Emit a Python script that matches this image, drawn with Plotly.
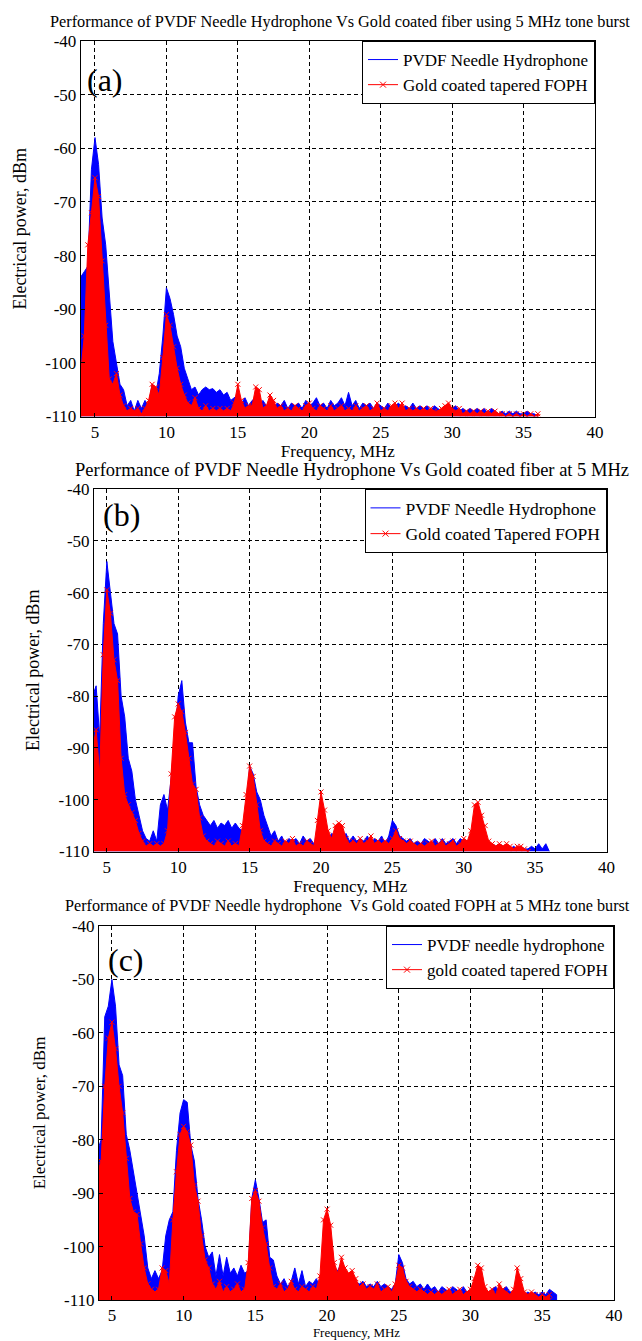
import plotly.graph_objects as go

# ---------------- data ----------------
FREQ_MHZ = [
    4.0, 4.25, 4.5, 4.75, 5.0, 5.25, 5.5, 5.75, 6.0, 6.25, 6.5, 6.75,
    7.0, 7.25, 7.5, 7.75, 8.0, 8.25, 8.5, 8.75, 9.0, 9.25, 9.5, 9.75,
    10.0, 10.25, 10.5, 10.75, 11.0, 11.25, 11.5, 11.75, 12.0, 12.25, 12.5, 12.75,
    13.0, 13.25, 13.5, 13.75, 14.0, 14.25, 14.5, 14.75, 15.0, 15.25, 15.5, 15.75,
    16.0, 16.25, 16.5, 16.75, 17.0, 17.25, 17.5, 17.75, 18.0, 18.25, 18.5, 18.75,
    19.0, 19.25, 19.5, 19.75, 20.0, 20.25, 20.5, 20.75, 21.0, 21.25, 21.5, 21.75,
    22.0, 22.25, 22.5, 22.75, 23.0, 23.25, 23.5, 23.75, 24.0, 24.25, 24.5, 24.75,
    25.0, 25.25, 25.5, 25.75, 26.0, 26.25, 26.5, 26.75, 27.0, 27.25, 27.5, 27.75,
    28.0, 28.25, 28.5, 28.75, 29.0, 29.25, 29.5, 29.75, 30.0, 30.25, 30.5, 30.75,
    31.0, 31.25, 31.5, 31.75, 32.0, 32.25, 32.5, 32.75, 33.0, 33.25, 33.5, 33.75,
    34.0, 34.25, 34.5, 34.75, 35.0, 35.25, 35.5, 35.75, 36.0,
]

# Panel (a)
PVDF_A = [
    -84, -83, -82, -64, -58, -63, -73, -78, -88, -96, -100, -104,
    -105, -108, -107, -109, -107, -108.5, -107, -108, -104, -106, -102, -95,
    -86, -88, -91, -95, -97, -101, -103, -105, -104.5, -106, -105, -104.5,
    -105, -104.8, -105.5, -105, -106, -105.5, -107, -106.5, -106, -107.5, -106.5, -108,
    -107, -106.5, -108, -107, -108, -107, -108.5, -107.5, -108, -107, -108.5, -107.5,
    -108, -107.5, -108.5, -107, -108, -107.5, -106.5, -108, -107.5, -108.5, -107, -108,
    -107.5, -106.5, -108, -105.5, -108, -107, -108.5, -107.5, -108, -107.5, -108.5, -107.5,
    -108, -108.5, -107.5, -108.5, -108, -107.5, -108.5, -108, -108.5, -107.5, -108.5, -108,
    -108.5, -108, -109, -108, -108.5, -109, -108, -109, -108.5, -108, -109, -108.5,
    -109, -108.5, -109, -108.5, -109, -108.5, -109.5, -108.5, -109, -109.5, -109, -109.5,
    -109, -109.5, -109, -109.5, -109.5, -109, -109.5, -109.5, -110,
]
FOPH_A = [
    -102, -95, -78, -72, -65.5, -69, -81, -93, -103, -104, -102, -106,
    -108, -109, -108.5, -109, -108.5, -109.5, -108.5, -107, -104, -104.5, -106, -99,
    -91, -93, -97, -101, -104, -106, -107.5, -108, -106.5, -108.5, -109, -108,
    -109, -108.5, -109, -108.5, -109, -108.5, -109, -107.5, -104, -107, -108.5, -108,
    -108, -104.5, -105, -108.5, -108, -106, -107, -108.5, -108, -109, -108.5, -109,
    -108, -108.5, -109, -108, -107.5, -108.5, -109, -108, -108.5, -109, -108, -109,
    -108.5, -108, -109, -108.5, -109, -108, -109, -108.5, -108, -109, -108.5, -107.5,
    -109, -108.5, -109, -108, -107.5, -108.5, -107.5, -109, -108.5, -109, -108.5, -109,
    -108.5, -109, -108.5, -109, -109, -108.5, -108, -107.5, -108.5, -109, -108.5, -109.5,
    -109, -109.5, -109, -109.5, -109, -109.5, -109, -109.5, -109, -109.5, -109.5, -110,
    -109.5, -110, -109.5, -110, -109.5, -110, -109.5, -110, -109.5,
]

# Panel (b)
PVDF_B = [
    -80, -78, -88, -66, -54, -60, -66, -68, -80, -84, -92, -94.5,
    -100, -103, -106, -107.5, -108, -106, -108, -101, -99, -102, -96, -88,
    -80, -77, -85, -89, -89, -97.5, -101, -103, -104, -105, -104, -105.5,
    -104.5, -105, -104, -105.5, -104.5, -105.5, -106, -104, -93.5, -95, -98.5, -100,
    -103, -105, -107, -106, -108, -107, -108.5, -107.5, -108, -107.5, -108.5, -107,
    -108, -107.5, -108.5, -107, -104, -106, -107.5, -106.5, -107, -106, -107.5, -106.5,
    -108, -107, -108, -107.5, -108, -107, -108.5, -107.5, -108, -107, -108.5, -107,
    -104, -105, -107, -107.5, -108, -107.5, -108.5, -108, -108.5, -107.5, -108, -108.5,
    -107.5, -108.5, -107.5, -108.5, -108, -107.5, -108.5, -107.5, -108, -108.5, -108, -108.5,
    -108, -108.5, -108.5, -109, -108.5, -109, -108.5, -109, -109, -109.5, -109, -109.5,
    -109, -109.5, -109.5, -109, -109.5, -108.5, -109.5, -108.5, -110,
]
FOPH_B = [
    -90, -86.5, -95, -72, -59.5, -64, -73, -77, -92, -99, -101, -102.5,
    -104, -106.5, -108, -109, -108.5, -109, -108.5, -109, -108.5, -106, -95, -84,
    -81.5, -83, -87, -92, -97, -98, -103.5, -107, -108, -108.5, -109, -108,
    -108.5, -109, -108, -109, -108.5, -109, -105, -99, -93.5, -95.5, -101, -106,
    -108, -108.5, -109, -108, -108.5, -109, -108, -108.5, -107.5, -109, -108.5, -109,
    -108, -108.5, -109, -104, -98.5, -102, -106, -107.5, -105, -104.5, -105, -107.5,
    -108.5, -108, -108.5, -107.5, -108.5, -108, -107, -108.5, -108, -108.5, -108, -108.5,
    -107.5, -106, -107.5, -108, -108.5, -108, -108.5, -109, -108.5, -109, -108.5, -108,
    -109, -108.5, -108, -109, -108.5, -108, -109, -108.5, -107.5, -108, -106, -101,
    -100.5, -103, -105, -108, -108.5, -109, -108.5, -109, -108.5, -109, -109.5, -109,
    -109, -109.5, -110,
]

# Panel (c)
PVDF_C = [
    -82, -80, -57, -55, -50, -55, -66, -68, -79, -82, -86, -90,
    -94.5, -98, -104, -106, -104.5, -106, -104.5, -98, -95, -93.5, -82, -75,
    -72.5, -73, -81, -84, -91, -95, -100, -102, -101, -105.5, -101.5, -105.5,
    -102, -105, -104, -105.5, -103.5, -105, -104.5, -91, -87.5, -91, -95.5, -95,
    -102, -102.5, -105.5, -107, -106, -107.5, -106.5, -104, -107, -104.5, -107.5, -106.5,
    -107, -106, -107.5, -104, -96, -98, -104, -104.5, -103, -105, -106, -105.5,
    -106.5, -107, -106.5, -107.5, -107, -107.5, -106.5, -107.5, -107, -107.5, -108, -107,
    -101.5, -103, -106, -107, -106.5, -107.5, -107, -108, -107, -108, -107.5, -108.5,
    -107.5, -108, -108.5, -107.5, -108, -108.5, -107.5, -108.5, -108, -107.5, -106, -107.5,
    -108, -108.5, -108, -107.5, -108.5, -108, -107.5, -108.5, -108.5, -108, -108.5, -109,
    -108.5, -109, -108.5, -109, -108.5, -109, -108, -108.5, -109,
]
FOPH_C = [
    -86, -84, -70, -61, -58, -63, -70, -75, -83.5, -91, -93.5, -94,
    -99.5, -104, -107, -108, -108.5, -108, -104, -104.5, -107, -95, -86, -79,
    -77.5, -78.5, -81, -88.5, -91.5, -98, -102.5, -104, -107, -108, -106.5, -108.5,
    -107.5, -108.5, -108, -107, -108.5, -108, -103, -91, -89.5, -91.5, -96.5, -99.5,
    -104, -107.5, -108, -107, -108.5, -108, -106.5, -108, -108.5, -107.5, -108, -108.5,
    -107.5, -108, -105.5, -95, -93, -96, -103, -105, -102, -104, -105, -104.5,
    -106, -107.5, -107, -108, -107.5, -108, -107, -108.5, -108, -107.5, -108.5, -107,
    -103.5, -104, -106.5, -107.5, -108, -108.5, -108, -108.5, -109, -108.5, -109, -108.5,
    -109, -108.5, -108, -109, -108.5, -108, -109, -108.5, -108, -106, -103.5, -104,
    -107.5, -108.5, -108, -109, -107, -108, -108.5, -109, -108, -104, -106, -108.5,
    -109, -108.5, -109, -109.5, -109, -109.5, -109,
]

TITLES = [
    "Performance of PVDF Needle Hydrophone Vs Gold coated fiber using 5 MHz tone burst",
    "Performance of PVDF Needle Hydrophone Vs Gold coated fiber at 5 MHz",
    "Performance of PVDF Needle hydrophone  Vs Gold coated FOPH at 5 MHz tone burst",
]
BLUE_NAMES = ["PVDF Needle Hydrophone", "PVDF Needle Hydrophone", "PVDF needle hydrophone"]
RED_NAMES = ["Gold coated tapered FOPH", "Gold coated Tapered FOPH", "gold coated tapered FOPH"]
PANEL_LABELS = ["(a)", "(b)", "(c)"]
X_TICKS = [5, 10, 15, 20, 25, 30, 35, 40]
X_TICK_LABELS = ["5", "10", "15", "20", "25", "30", "35", "40"]
Y_TICKS = [-40, -50, -60, -70, -80, -90, -100, -110]
Y_TICK_LABELS = ["-40", "-50", "-60", "-70", "-80", "-90", "-100", "-110"]
X_TITLE = "Frequency, MHz"
Y_TITLE = "Electrical power, dBm"

BLUE_SERIES = [PVDF_A, PVDF_B, PVDF_C]
RED_SERIES = [FOPH_A, FOPH_B, FOPH_C]

# ---------------- layout / style ----------------
W, H = 642, 1341
FONT = "Liberation Serif"
BLUE = "#0000FF"
RED = "#FF0000"
Y_MIN, Y_MAX = -110, -40
X_MIN = [4.0, 4.1, 4.1]
X_MAX = 40
# plot boxes in pixels: (left, right, top, bottom)
BOXES = [(72.7, 587, 33, 408.5), (86, 598.5, 481, 843.5), (91, 606, 918, 1292)]
TITLE_Y = [14, 462, 898]
TITLE_X = [332, 344, 340]
TITLE_SIZE = [16.3, 18.5, 16.2]
LEGEND_SIZE = [17, 17.5, 17]
XTITLE_SIZE = [17, 17, 13]
XTITLE_STANDOFF = [4, 4, 0]
YTITLE_SIZE = [18, 18, 17]
YTITLE_STANDOFF = [13, 14, 13]
LABEL_POS = [(97, 72), (113, 507), (118, 952)]

fig = go.Figure()


def closed(freq, vals):
    xs = freq[:len(vals)]
    return [xs[0]] + xs + [xs[-1]], [Y_MIN] + list(vals) + [Y_MIN]


for k in range(3):
    sfx = "" if k == 0 else str(k + 1)
    xa, ya, leg = "x" + sfx, "y" + sfx, "legend" + sfx
    bx, by = closed(FREQ_MHZ, BLUE_SERIES[k])
    rx, ry = closed(FREQ_MHZ, RED_SERIES[k])
    fig.add_trace(go.Scatter(
        x=bx, y=by, xaxis=xa, yaxis=ya, mode="lines", fill="toself",
        fillcolor=BLUE, line=dict(color=BLUE, width=1), showlegend=False,
        hoverinfo="skip"))
    fig.add_trace(go.Scatter(
        x=rx, y=ry, xaxis=xa, yaxis=ya, mode="lines+markers", fill="toself",
        fillcolor=RED, line=dict(color=RED, width=1),
        marker=dict(symbol="x-thin", size=5, color=RED, line=dict(width=1, color=RED)),
        showlegend=False, hoverinfo="skip"))
    # legend entries (line samples as in the original)
    fig.add_trace(go.Scatter(
        x=[None], y=[None], xaxis=xa, yaxis=ya, mode="lines", name=BLUE_NAMES[k],
        line=dict(color=BLUE, width=1), legend=leg))
    fig.add_trace(go.Scatter(
        x=[None], y=[None], xaxis=xa, yaxis=ya, mode="lines+markers", name=RED_NAMES[k],
        line=dict(color=RED, width=1),
        marker=dict(symbol="x-thin", size=6, color=RED, line=dict(width=1, color=RED)),
        legend=leg))

layout = dict(
    width=W, height=H, margin=dict(l=0, r=0, t=0, b=0),
    paper_bgcolor="white", plot_bgcolor="white",
    font=dict(family=FONT, color="black", size=17),
    annotations=[],
)

axis_common = dict(
    showline=True, linecolor="black", linewidth=1, mirror="ticks",
    ticks="inside", ticklen=4, tickcolor="black",
    showgrid=True, gridcolor="black", gridwidth=1, griddash="4px,3px",
    zeroline=False, automargin=False,
    tickfont=dict(family=FONT, size=17, color="black"),
)

for k in range(3):
    sfx = "" if k == 0 else str(k + 1)
    l, r, t, b = BOXES[k]
    xd = [l / W, r / W]
    yd = [1 - b / H, 1 - t / H]
    layout["xaxis" + sfx] = dict(
        axis_common, domain=xd, range=[X_MIN[k], X_MAX],
        tickvals=X_TICKS, ticktext=X_TICK_LABELS, anchor="y" + sfx,
        title=dict(text=X_TITLE, standoff=XTITLE_STANDOFF[k],
                   font=dict(family=FONT, size=XTITLE_SIZE[k])))
    layout["yaxis" + sfx] = dict(
        axis_common, domain=yd, range=[Y_MIN, Y_MAX],
        tickvals=Y_TICKS, ticktext=Y_TICK_LABELS, anchor="x" + sfx,
        title=dict(text=Y_TITLE, standoff=YTITLE_STANDOFF[k],
                   font=dict(family=FONT, size=YTITLE_SIZE[k])))
    layout["legend" + sfx] = dict(
        x=r / W, y=1 - t / H, xanchor="right", yanchor="top",
        bgcolor="white", bordercolor="black", borderwidth=1,
        font=dict(family=FONT, size=LEGEND_SIZE[k], color="black"), tracegroupgap=0)
    layout["annotations"].append(dict(
        text=TITLES[k], xref="paper", yref="paper", x=TITLE_X[k] / W,
        y=1 - TITLE_Y[k] / H, xanchor="center", yanchor="middle", showarrow=False,
        font=dict(family=FONT, size=TITLE_SIZE[k], color="black")))
    lx, ly = LABEL_POS[k]
    layout["annotations"].append(dict(
        text=PANEL_LABELS[k], xref="paper", yref="paper", x=lx / W, y=1 - ly / H,
        xanchor="center", yanchor="middle", showarrow=False,
        font=dict(family=FONT, size=32, color="black")))

fig.update_layout(**layout)
fig.write_html("out.html")
